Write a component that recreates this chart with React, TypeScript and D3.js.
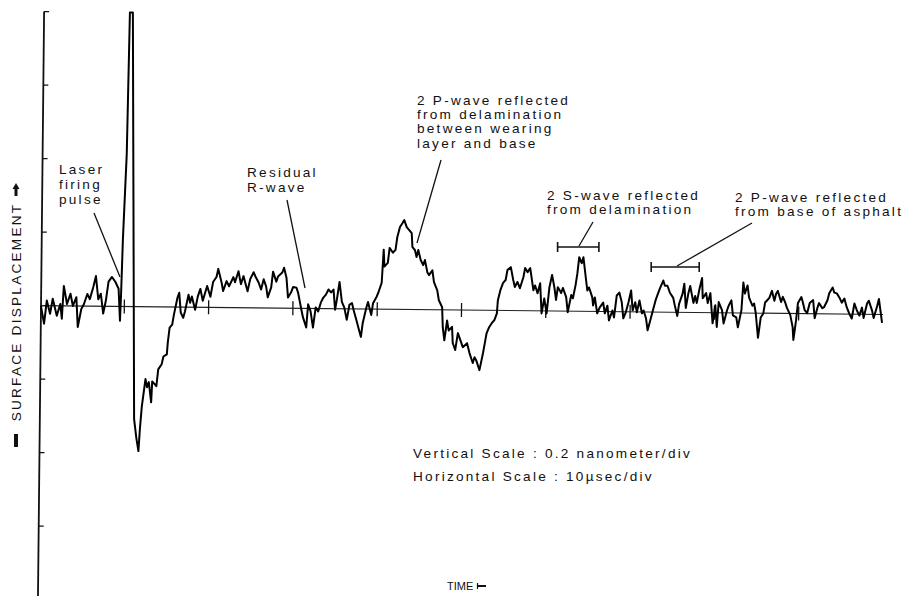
import React from "react";
import * as d3 from "d3";

// Trace readings: [time (µs), surface displacement (pm)], 0.2 nm per division, 10 µs per division
const preTrigger: [number, number][] = [
  [0.1, 0], [0.5, -49], [0.8, 14], [1.2, -22], [1.5, 19], [2.0, -27], [2.4, 5], [2.6, -35], [2.8, 54],
  [3.2, 5], [3.6, 33], [3.9, 0], [4.3, 24], [4.5, -57], [4.9, -8], [5.2, 5], [5.6, 33], [5.9, 19],
  [6.3, 52], [6.6, 82], [6.9, 19], [7.2, 34], [7.5, -20], [7.8, 15], [8.1, 67], [8.5, 80], [8.9, 67],
  [9.3, 48], [9.5, -39], [9.6, 34],
];

const laserPulse: [number, number][] = [
  [9.75, 184], [10.1, 416], [10.3, 800], [10.65, 800], [10.95, 292], [11.3, -306], [11.6, -359], [11.85, -393],
];

const recovery: [number, number][] = [
  [12.0, -333], [12.2, -271], [12.6, -197], [12.8, -219], [13.0, -205], [13.3, -260], [13.4, -203],
  [13.9, -216], [14.1, -170], [14.5, -156], [14.7, -135], [15.1, -129], [15.2, -97], [15.4, -56],
  [15.7, -48], [15.9, -20], [16.3, 26], [16.5, 39], [16.7, -15], [17.0, -29], [17.2, -12], [17.6, 34],
  [17.8, 12], [18.0, 29], [18.4, -7], [18.7, 29],
];

const rWave: [number, number][] = [
  [19.0, 50], [19.3, 18], [19.8, 58], [20.2, 29], [20.5, 69], [20.9, 83], [21.1, 105], [21.5, 69],
  [21.7, 45], [22.1, 72], [22.4, 58], [22.9, 83], [23.1, 69], [23.5, 99], [23.8, 64], [24.1, 86],
  [24.6, 45], [24.9, 78], [25.3, 97], [25.5, 86], [25.9, 69], [26.2, 50], [26.5, 78], [26.8, 58],
  [27.0, 29], [27.4, 56], [27.6, 99], [28.0, 72], [28.2, 86], [28.7, 97], [28.9, 110], [29.2, 83],
  [29.4, 29], [29.8, 45], [30.0, 58], [30.4, 56], [30.6, 42], [31.0, -3], [31.2, -24], [31.6, -52],
  [31.8, 11], [32.1, -8], [32.4, -52], [32.7, 3], [33.0, -8], [33.3, 16], [33.6, 30], [33.9, 38],
  [34.2, 52], [34.5, 44], [34.8, 52], [35.0, -3], [35.2, 24], [35.5, 73], [35.8, 19], [36.1, 3],
  [36.4, -30], [36.7, 11], [37.0, 16], [37.2, -3], [37.6, -35], [37.8, -52], [38.1, -76], [38.3, -38],
  [38.7, 3], [38.9, 19], [39.3, -16], [39.5, 16], [39.9, 33], [40.1, 44],
];

const pWave: [number, number][] = [
  [40.5, 72], [40.7, 162], [40.8, 116], [41.2, 126], [41.4, 167], [41.8, 154], [42.1, 162], [42.3, 197],
  [42.6, 224], [42.9, 235], [43.1, 243], [43.4, 224], [43.7, 216], [44.0, 208], [44.1, 170], [44.4, 162],
  [44.6, 143], [44.8, 162], [45.1, 135], [45.4, 121], [45.6, 135], [45.9, 102], [46.1, 94], [46.5, 107],
  [46.7, 75], [47.1, 53], [47.3, 26], [47.7, 7], [47.8, -48], [48.0, -83], [48.3, -29], [48.5, -56],
  [48.9, -46], [49.0, -90], [49.3, -109], [49.6, -63], [49.9, -82], [50.2, -101], [50.7, -90], [51.0, -117],
  [51.4, -144], [51.6, -128], [51.8, -136], [52.2, -163], [52.6, -117], [52.8, -90], [53.0, -63], [53.3, -46],
  [53.6, -35], [53.9, -27], [54.2, -8], [54.3, 27], [54.6, 56], [54.9, 75], [55.2, 83], [55.4, 110],
  [55.8, 118], [56.1, 83], [56.3, 64], [56.6, 78], [56.9, 61], [57.3, 91], [57.5, 116], [57.8, 105],
  [58.1, 116], [58.5, 56], [58.7, 69], [59.0, 48], [59.3, 75], [59.5, -7], [59.8, 34], [60.1, -7], [60.4, 64],
];

const sWave: [number, number][] = [
  [60.7, 98], [61.0, 63], [61.2, 30], [61.4, 65], [61.8, 49], [62.0, 63], [62.4, 38], [62.6, -3],
  [63.0, 44], [63.2, 35], [63.5, 71], [63.7, 103], [63.9, 147], [64.2, 131], [64.4, 147], [64.7, 92],
  [64.9, 57], [65.1, 65], [65.5, 38], [65.6, 16], [65.8, 38], [66.1, -5], [66.4, 11], [66.8, 24],
  [67.0, -5], [67.3, 16], [67.5, -24], [67.9, 3], [68.1, -16], [68.4, 44], [68.7, 52], [69.0, 26],
  [69.2, -18], [69.5, -1], [69.8, 26], [70.1, 58], [70.3, 4], [70.6, 26], [70.8, -1], [71.1, 31],
  [71.4, -4], [71.6, 4], [71.9, -18], [72.1, -50], [72.4, -23], [72.7, 4], [73.0, 31], [73.2, 45],
  [73.5, 64], [73.9, 86], [74.1, 72], [74.4, 72], [74.7, 53], [75.1, 39], [75.3, 18], [75.6, -10],
  [75.8, 23], [76.2, 50], [76.4, 78], [76.6, 12], [76.9, 53], [77.1, 72], [77.5, 26], [77.7, 45],
  [77.9, 26], [78.2, 64], [78.5, 94], [78.6, 39], [79.0, 53], [79.2, 26],
];

const tail: [number, number][] = [
  [79.5, 53], [79.8, -29], [80.1, 20], [80.3, -39], [80.5, 29], [80.9, 7], [81.1, -29], [81.5, 7],
  [81.7, 20], [82.0, 34], [82.2, -7], [82.6, -12], [82.8, -39], [83.2, 7], [83.4, 83], [83.6, 53],
  [83.9, 75], [84.1, 42], [84.5, 20], [84.7, 26], [84.9, 1], [85.2, -67], [85.5, -12], [85.8, -1],
  [86.0, 29], [86.2, 34], [86.5, 42], [86.8, 61], [87.1, 34], [87.3, 53], [87.5, 61], [87.9, 31],
  [88.1, 45], [88.4, 29], [88.6, 15], [89.0, -4], [89.3, -37], [89.4, -72], [89.7, -18], [89.9, 29],
  [90.3, 45], [90.5, 29], [90.7, 10], [91.0, 1], [91.3, 29], [91.7, 37], [91.9, -12], [92.2, 15],
  [92.4, 29], [92.8, 15], [93.0, 18], [93.4, 37], [93.6, 56], [94.0, 72], [94.2, 58], [94.5, 56],
  [94.8, 45], [95.1, 31], [95.4, 42], [95.7, 18], [96.0, 1], [96.3, -12], [96.6, 29], [96.9, 10],
  [97.2, -4], [97.5, 18], [97.7, -10], [98.1, 29], [98.3, 37], [98.7, 10], [98.9, -10], [99.3, 23],
  [99.5, 42], [99.9, -23],
];

const divisionTicksUs = [10, 20, 30, 40, 50, 60, 70, 80, 90];
const displacementTicksPm = [-600, -400, -200, 0, 200, 400, 600, 800];
const sWaveWindowUs = [61.4, 66.3];
const pWaveWindowUs = [72.5, 78.2];

const laserLabel = ["Laser", "firing", "pulse"];
const residualLabel = ["Residual", "R-wave"];
const pDelamLabel = ["2 P-wave reflected", "from delamination", "between wearing", "layer and base"];
const sDelamLabel = ["2 S-wave reflected", "from delamination"];
const pBaseLabel = ["2 P-wave reflected", "from base of asphalt"];
const scaleLabel = ["Vertical Scale : 0.2 nanometer/div", "Horizontal Scale : 10\u00B5sec/div"];
const yTitle = "SURFACE DISPLACEMENT";
const xTitle = "TIME";

export default function App() {
  const W = 905;
  const H = 596;
  const x = d3.scaleLinear().domain([0, 100]).range([40, 883]);
  const y = d3.scaleLinear().domain([-800, 800]).range([604, 16]);
  const trace = [...preTrigger, ...laserPulse, ...recovery, ...rWave, ...pWave, ...sWave, ...tail];
  const line = d3
    .line<[number, number]>()
    .x((d) => x(d[0]))
    .y((d) => y(d[1]));
  const font = "'Liberation Sans', Arial, Helvetica, sans-serif";
  const txt: React.CSSProperties = { fontFamily: font, fontSize: 13.6, letterSpacing: "2.25px" };
  const axisX = x(0) + 1;
  const ink = "#111";

  const lines = (arr: string[], x0: number, y0: number, dy: number) =>
    arr.map((s, i) => (
      <text key={i} x={x0} y={y0 + i * dy} style={txt} fill={ink}>
        {s}
      </text>
    ));

  const bracket = (win: number[], yy: number) => (
    <g stroke={ink} strokeWidth={1.6}>
      <line x1={x(win[0])} x2={x(win[1])} y1={yy} y2={yy} />
      <line x1={x(win[0])} x2={x(win[0])} y1={yy - 5} y2={yy + 5} />
      <line x1={x(win[1])} x2={x(win[1])} y1={yy - 5} y2={yy + 5} />
    </g>
  );

  return (
    <svg
      width={W}
      height={H}
      style={{ position: "absolute", left: 0, top: 0, background: "#fff" }}
    >
      <rect x={0} y={0} width={W} height={H} fill="#fff" />
      <g transform="rotate(0.6 460 310)">
        <line x1={axisX} x2={axisX} y1={y(800)} y2={y(-800)} stroke={ink} strokeWidth={1.8} />
        {displacementTicksPm.map((v) => (
          <line key={v} x1={axisX} x2={axisX + 5} y1={y(v)} y2={y(v)} stroke={ink} strokeWidth={1.3} />
        ))}
        <line x1={axisX} x2={x(100)} y1={y(0)} y2={y(0)} stroke="#222" strokeWidth={1.1} />
        {divisionTicksUs.map((t) => (
          <line key={t} x1={x(t)} x2={x(t)} y1={y(0) - 7} y2={y(0) + 7} stroke={ink} strokeWidth={1.3} />
        ))}
        <path
          d={line(trace) || ""}
          fill="none"
          stroke="#000"
          strokeWidth={2}
          strokeLinejoin="round"
        />
      </g>

      {lines(laserLabel, 59, 174, 15)}
      <line x1={94} y1={213} x2={120} y2={277} stroke={ink} strokeWidth={1.3} />

      {lines(residualLabel, 247, 177, 15)}
      <line x1={287} y1={200} x2={305} y2={288} stroke={ink} strokeWidth={1.3} />

      {lines(pDelamLabel, 417, 105, 14.2)}
      <line x1={441} y1={160} x2={417} y2={243} stroke={ink} strokeWidth={1.3} />

      {lines(sDelamLabel, 547, 200, 14)}
      <line x1={593} y1={222} x2={579} y2={246} stroke={ink} strokeWidth={1.3} />
      {bracket(sWaveWindowUs, 247)}

      {lines(pBaseLabel, 735, 202, 14)}
      <line x1={752} y1={223} x2={677} y2={266} stroke={ink} strokeWidth={1.3} />
      {bracket(pWaveWindowUs, 267)}

      {lines(scaleLabel, 413, 458, 23)}

      <text x={447} y={590} style={{ fontFamily: font, fontSize: 11 }} fill={ink}>
        {xTitle}
      </text>
      <line x1={477} x2={486} y1={586} y2={586} stroke={ink} strokeWidth={2} />
      <line x1={477.5} x2={477.5} y1={583} y2={589} stroke={ink} strokeWidth={1.2} />

      <text
        transform="translate(21,312) rotate(-90)"
        textAnchor="middle"
        style={txt}
        fill={ink}
      >
        {yTitle}
      </text>
      <path d="M16,183 L19.5,189 L12.5,189 Z" fill={ink} />
      <rect x={14.5} y={189} width={3} height={7} fill={ink} />
      <rect x={14} y={434} width={4} height={13} fill={ink} />
    </svg>
  );
}
